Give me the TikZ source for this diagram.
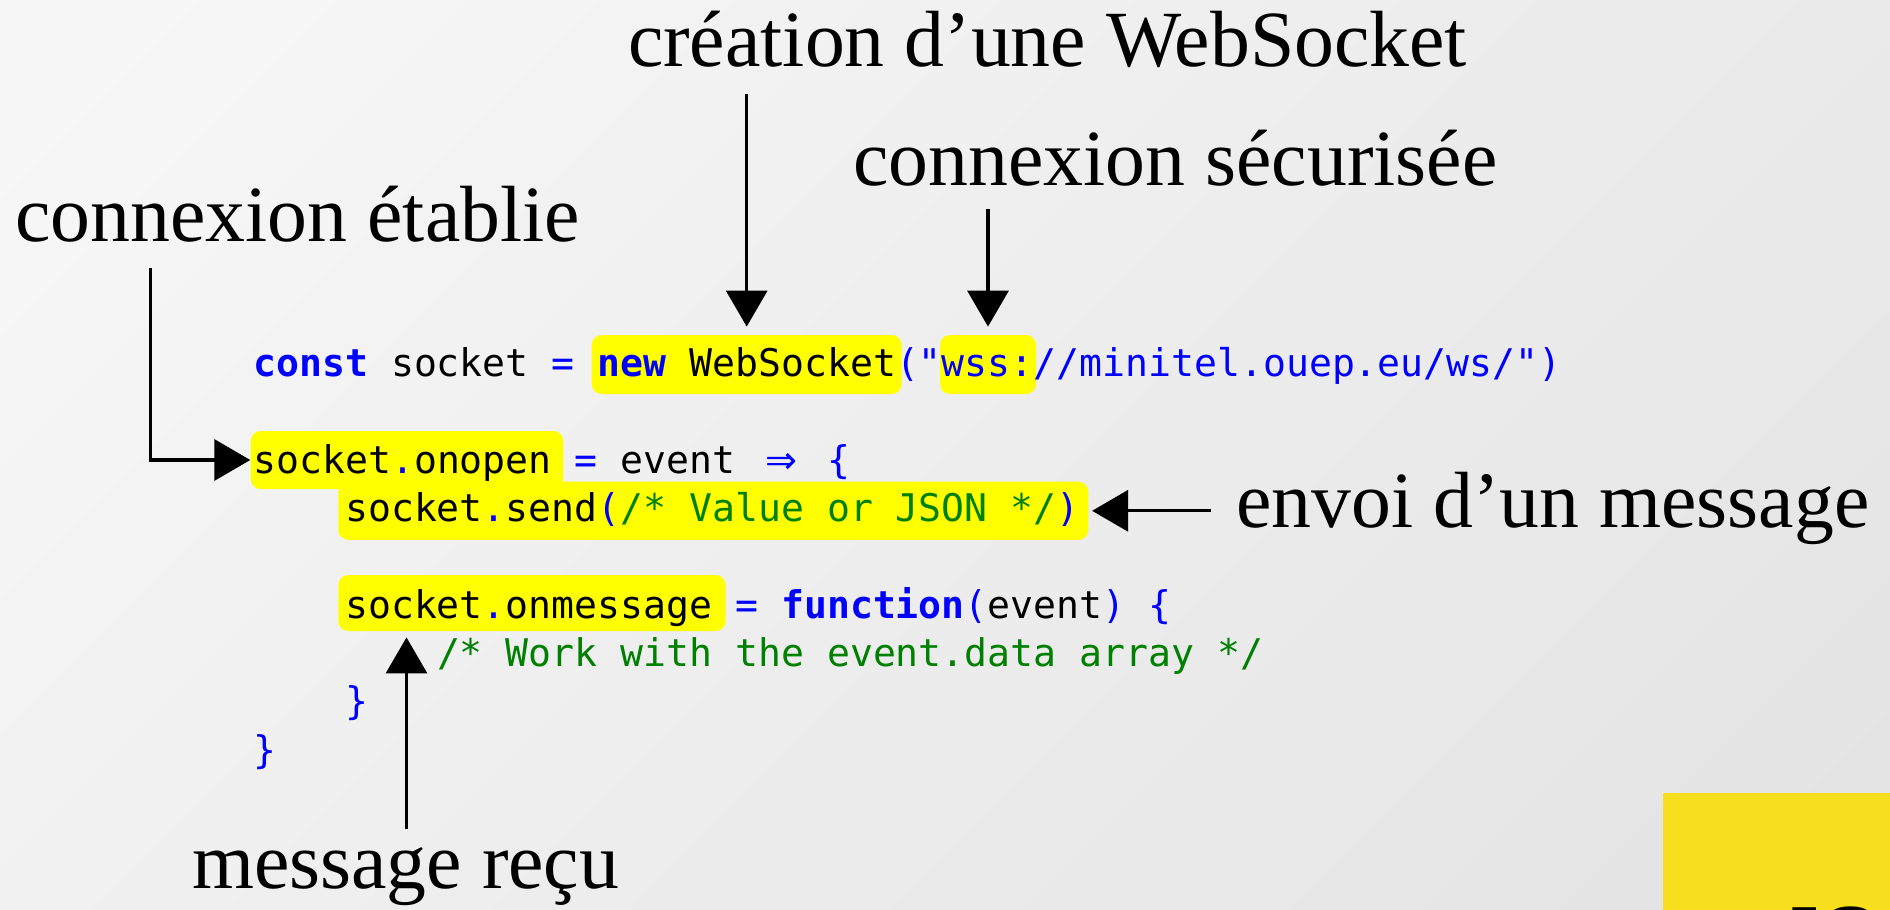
\documentclass[tikz,border=0pt]{standalone}
\usepackage{fontspec}
\setmainfont{Liberation Serif}
\setmonofont{DejaVu Sans Mono}
\newfontfamily\jsfont{Liberation Sans}
\newfontfamily\arrfont{DejaVu Sans}
\usetikzlibrary{arrows.meta}
\definecolor{kwblue}{HTML}{0000FF}
\definecolor{cmgreen}{HTML}{008000}
\definecolor{hlyellow}{HTML}{FFFF00}
\definecolor{jsyellow}{HTML}{F7DF1E}
\definecolor{bgtop}{HTML}{F7F7F7}
\definecolor{bgmid}{HTML}{F3F3F3}
\definecolor{bgbot}{HTML}{E4E4E4}
\newcommand{\kw}[1]{\textcolor{kwblue}{\bfseries #1}}
\newcommand{\bl}[1]{\textcolor{kwblue}{#1}}
\newcommand{\cmt}[1]{\textcolor{cmgreen}{#1}}
\begin{document}
\begin{tikzpicture}[x=0.5pt,y=-0.5pt,
  code/.style={anchor=base west, inner sep=0pt, font=\ttfamily\fontsize{19.06pt}{24pt}\selectfont},
  lbl/.style={anchor=base, inner sep=0pt, font=\fontsize{39.85pt}{48pt}\selectfont},
  hl/.style={fill=hlyellow, rounded corners=5pt, inner sep=0pt},
  arr/.style={line width=1.65pt, -{Triangle[length=18pt,width=20.5pt]}}
]
\useasboundingbox (0,0) rectangle (1890,910);
\shade[top color=bgtop, middle color=bgmid, bottom color=bgbot, shading angle=45] (-200,-200) rectangle (2090,1110);

% JS logo corner
\fill[jsyellow] (1663,793) rectangle (1950,980);
\node[anchor=north west, inner sep=0pt, font=\jsfont\bfseries\fontsize{42pt}{42pt}\selectfont] (js) at (1775,906.5) {JS};

% highlight boxes
\node[hl, minimum width=155pt, minimum height=29.5pt] (hlnew) at (746.7,364.5) {};
\node[hl, minimum width=48pt, minimum height=29.5pt] (hlwss) at (988,364.5) {};
\node[hl, minimum width=156.3pt, minimum height=29pt] (hlopen) at (407,460) {};
\node[hl, minimum width=375pt, minimum height=29.15pt] (hlsend) at (713.3,510.8) {};
\node[hl, minimum width=193.7pt, minimum height=28pt] (hlmsg) at (532,603) {};

% code lines
\node[code] (l1) at (253,376.7) {\kw{const} socket \bl{=} \kw{new} WebSocket\bl{("wss://minitel.ouep.eu/ws/")}};
\node[code] (l3) at (253,473.3) {socket\bl{.}onopen \bl{=} event \makebox[1.2041em]{\bl{\arrfont ⇒}} \bl{\{}};
\node[code] (l4) at (344.8,521.6) {socket\bl{.}send\bl{(}\cmt{/* Value or JSON */}\bl{)}};
\node[code] (l6) at (344.8,618.2) {socket\bl{.}onmessage \bl{=} \kw{function}\bl{(}event\bl{)} \bl{\{}};
\node[code] (l7) at (436.6,666.5) {\cmt{/* Work with the event.data array */}};
\node[code] (l8) at (344.8,714.8) {\bl{\}}};
\node[code] (l9) at (253,763.1) {\bl{\}}};

% labels
\node[lbl] (lcre) at (1047.5,66.7) {création d’une WebSocket};
\node[lbl] (lsec) at (1175.5,185) {connexion sécurisée};
\node[lbl] (leta) at (297.7,241.7) {connexion établie};
\node[lbl] (lenv) at (1553,527) {envoi d’un message};
\node[lbl] (lrec) at (405.6,888) {message reçu};

% arrows
\coordinate (s1) at (746.7,94.3);
\coordinate (s2) at (988,208.7);
\coordinate (s3) at (150.5,268.3);
\coordinate (s4) at (1210.7,510.8);
\coordinate (s5) at (406.5,829);
\draw[arr, shorten >=4pt] (s1) -- (s1 |- hlnew.north);
\draw[arr, shorten >=4pt] (s2) -- (s2 |- hlwss.north);
\draw[arr] (s3) |- (hlopen.west);
\draw[arr, shorten >=1.7pt] (s4) -- (hlsend.east);
\draw[arr, shorten >=3pt] (s5) -- (s5 |- hlmsg.south);
\end{tikzpicture}
\end{document}
